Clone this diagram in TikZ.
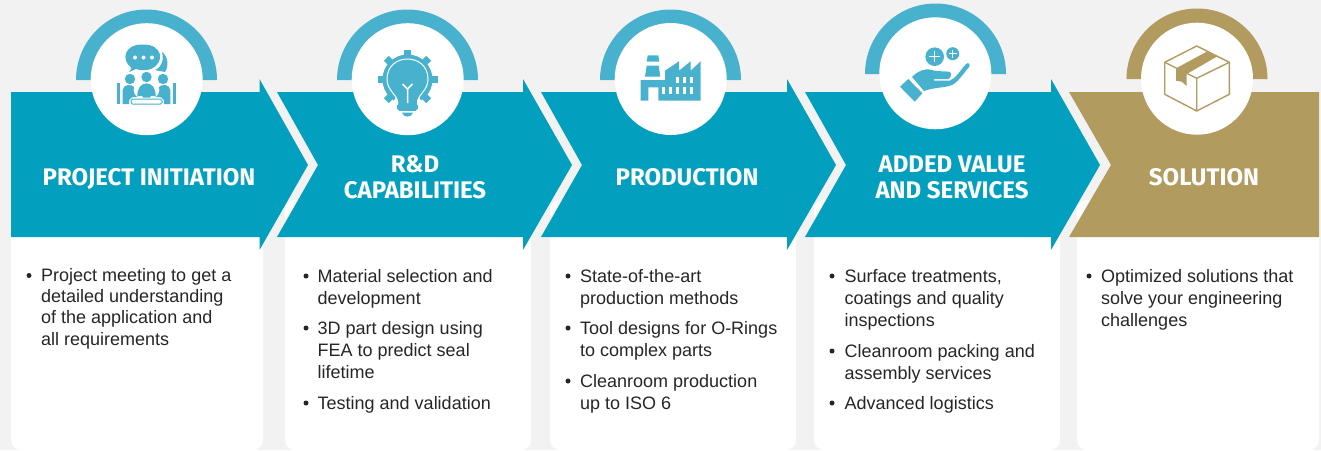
\documentclass[tikz,border=0pt]{standalone}
\usepackage{fontspec}
\setmainfont{Liberation Sans}
\newfontfamily\headfont{Fira Sans}
\definecolor{teal1}{HTML}{02A0BE}
\definecolor{teal2}{HTML}{47B1CE}
\definecolor{gold1}{HTML}{B29B5F}
\definecolor{back1}{HTML}{F2F2F2}
\tikzset{
  head/.style={text=white,align=center,inner sep=0pt,font=\headfont\bfseries\fontsize{24}{26}\selectfont},
  itemtext/.style={anchor=north west,align=left,inner sep=0pt,text=black!85,font=\fontsize{18}{22.3}\selectfont},
  dotmark/.style={circle,fill=black!85,inner sep=0pt,minimum size=5pt},
  disc/.style={circle,fill=white,inner sep=0pt,minimum size=112pt}
}
\begin{document}
\begin{tikzpicture}[x=1pt,y=-1pt]
    \useasboundingbox (0,0) rectangle (1321,450);
    \fill[back1] (0,0) rectangle (1321,450);
    \foreach \l/\r in {11/263, 285/531, 550/796, 814/1060, 1077/1319}
        \fill[white,rounded corners=10pt] (\l,200) rectangle (\r,450);
    \foreach \cx/\by/\c in {146.5/80/teal2, 407.5/80/teal2, 670.5/80/teal2, 935.5/74/teal2, 1197/79/gold1}
        \fill[\c] (\cx-70.5,\by) arc[start angle=180,end angle=0,radius=70.5pt] -- cycle;
    \fill[teal1] (11,92) -- (259.5,92) -- (259.5,79) -- (308,165) -- (259.5,250) -- (259.5,237) -- (11,237) -- cycle;
    \foreach \l/\s in {277/523, 541/787, 805/1051}
        \fill[teal1] (\l,92) -- (\s,92) -- (\s,79) -- (\s+49,165) -- (\s,250) -- (\s,237) -- (\l,237) -- (\l+41,165) -- cycle;
    \fill[gold1] (1069,92) -- (1319,92) -- (1319,237) -- (1069,237) -- (1111,165) -- cycle;
    \node[disc] (c1) at (146.7,79.2) {};
    \node[disc] (c2) at (407.7,79.2) {};
    \node[disc] (c3) at (670.7,79) {};
    \node[disc] (c4) at (935.3,73.3) {};
    \node[disc] (c5) at (1197,78.7) {};

    % meeting
    \fill[teal2] (129,72) .. controls (131,70) and (131,69) .. (131,67.5) .. controls (121,60) and (124,44) .. (143,44.5) .. controls (162,44) and (166,62) .. (151,69) .. controls (146,71) and (138,70) .. (136,69) -- cycle;
    \fill[teal2] (162,52) .. controls (168,56) and (169,66) .. (165,72) .. controls (161,71) and (158,71) .. (155,70) .. controls (162,67) and (164,60) .. (162,52) -- cycle;
    \foreach \x in {135,143.5,152} \fill[white] (\x,57.5) circle (2pt);
    \foreach \x/\y in {130/79, 146.5/77, 163/79} \fill[teal2] (\x,\y) circle (5.2pt);
    \fill[teal2] (116.7,82.7) rectangle (120,104);
    \fill[teal2] (173,82.7) rectangle (176.3,104);
    \fill[teal2] (122.7,104) -- (122.7,90) .. controls (123,84) and (132,84) .. (134,87) .. controls (133,92) and (134,94) .. (137,97) .. controls (133,97) and (130,97) .. (129,100) -- (129,104) -- cycle;
    \fill[teal2] (170.3,104) -- (170.3,90) .. controls (170,84) and (161,84) .. (159,87) .. controls (160,92) and (159,94) .. (156,97) .. controls (160,97) and (163,97) .. (164,100) -- (164,104) -- cycle;
    \fill[teal2] (137.5,96.5) .. controls (136,79) and (157,79) .. (155.5,96.5) .. controls (153,96.5) and (151,94) .. (150,97.5) -- (143,97.5) .. controls (142,94) and (140,96.5) .. (137.5,96.5) -- cycle;
    \draw[teal2,line width=1pt,rounded corners=1.5pt] (131,104) -- (131,99) -- (162,99) -- (162,104) -- cycle;

    % bulb and gear
    \fill[teal2] (407.5,79.5) circle (25pt);
    \foreach \a in {0,45,...,315}
        \fill[teal2,rotate around={\a:(407.5,79.5)}] (404,49.5) rectangle (411,58);
    \fill[white] (407.5,79.5) -- (384,116) -- (431,116) -- cycle;
    \fill[teal2,draw=white,line width=1pt] (397.5,105) -- (397.5,101) .. controls (396,94) and (387,90) .. (387,79) .. controls (387,66) and (397,59) .. (407.5,59) .. controls (418,59) and (428,66) .. (428,79) .. controls (428,90) and (419,94) .. (417.5,101) -- (417.5,105) -- cycle;
    \draw[white,line width=1.5pt] (407.5,103) -- (407.5,89) -- (402.5,84);
    \draw[white,line width=1.5pt] (407.5,89) -- (412.5,84);
    \fill[teal2,rounded corners=2pt] (397,104) -- (418,104) -- (418,110) -- (397,110) -- cycle;
    \fill[teal2] (399,106) -- (416,106) -- (416,111) -- (399,111) -- cycle;
    \fill[teal2] (402,112.5) -- (413,112.5) .. controls (412,118) and (403,118) .. (402,112.5) -- cycle;

    % factory
    \fill[teal2] (647.7,55.3) -- (658.3,55.3) -- (659.3,61.7) -- (646.7,61.7) -- cycle;
    \fill[teal2] (646.7,65.7) -- (658.7,65.7) -- (660.3,76.7) -- (645,76.7) -- cycle;
    \fill[teal2,even odd rule] (640.7,80) -- (665,80) -- (665,70.7) -- (679,61.3) -- (679,70.7) -- (690.7,61.3) -- (690.7,70.7) -- (700.7,61.3) -- (700.7,100.7) -- (658.3,100.7) -- (658.3,87.3) -- (648.3,87.3) -- (648.3,100.7) -- (640.7,100.7) -- cycle;
    \foreach \x in {676,683,690}
        \fill[white] (\x,76.7) rectangle +(3.4,6.6);
    \foreach \x in {662,669,676,683,690}
        \fill[white] (\x,87.3) rectangle +(3.4,6.7);

    % hand
    \fill[teal2] (934.7,56.7) circle (9.3pt);
    \fill[teal2] (952.7,53.7) circle (6.5pt);
    \draw[white,line width=1pt] (929,56.7) -- (940.4,56.7) (934.7,51) -- (934.7,62.4);
    \draw[white,line width=1pt] (948.7,53.7) -- (956.7,53.7) (952.7,49.7) -- (952.7,57.7);
    \fill[teal2] (900,86.7) -- (908.3,79) -- (922.3,93.3) -- (914.7,101.7) -- cycle;
    \fill[teal2] (912,77) .. controls (918,71) and (924,68) .. (932,70) .. controls (938,72) and (948,71) .. (950,72) .. controls (952,74) and (951,78) .. (948,79) -- (934,79) -- (934,80.5) -- (950,80.5) .. controls (955,79) and (960,71) .. (966,64) .. controls (968,62) and (971,64) .. (969,67) .. controls (963,74) and (958,82) .. (952,85) .. controls (945,88) and (935,87) .. (924,91) -- cycle;

    % box
    \draw[gold1,line width=1.4pt,line join=round] (1196.7,46) -- (1229.3,62.3) -- (1229.3,94.3) -- (1196.7,111) -- (1164.7,94.3) -- (1164.7,62.3) -- cycle;
    \draw[gold1,line width=1.4pt,line join=round] (1164.7,62.3) -- (1196.7,78.3) -- (1229.3,62.3) (1196.7,78.3) -- (1196.7,111);
    \fill[gold1] (1176,68.3) -- (1206.7,51.7) -- (1216.7,56.7) -- (1186.7,74) -- (1186.7,86) -- (1181.7,81.7) -- (1176,80.7) -- cycle;

    \node[head] (h1) at (149,179) {PROJECT INITIATION};
    \node[head] (h2) at (415,177) {R\&D\\CAPABILITIES};
    \node[head] (h3) at (687,177) {PRODUCTION};
    \node[head] (h4) at (952,177) {ADDED VALUE\\AND SERVICES};
    \node[head] (h5) at (1204,177) {SOLUTION};

    \node[itemtext,font=\fontsize{18}{21.3}\selectfont] (p1) at (41,268) {Project meeting to get a\\detailed understanding\\of the application and\\all requirements};
    \node[dotmark] (b1) at (29,275.5) {};

    \node[itemtext] (r1) at (317.5,269) {Material selection and\\development};
    \node[itemtext] (r2) at (317.5,321) {3D part design using\\FEA to predict seal\\lifetime};
    \node[itemtext] (r3) at (317.5,396) {Testing and validation};
    \foreach \n/\y in {1/276, 2/328, 3/403} \node[dotmark] (br\n) at (306,\y) {};

    \node[itemtext] (s1) at (580,269) {State-of-the-art\\production methods};
    \node[itemtext] (s2) at (580,321) {Tool designs for O-Rings\\to complex parts};
    \node[itemtext] (s3) at (580,374) {Cleanroom production\\up to ISO 6};
    \foreach \n/\y in {1/276, 2/328, 3/381} \node[dotmark] (bs\n) at (568,\y) {};

    \node[itemtext] (v1) at (844.5,269) {Surface treatments,\\coatings and quality\\inspections};
    \node[itemtext] (v2) at (844.5,344) {Cleanroom packing and\\assembly services};
    \node[itemtext] (v3) at (844.5,396) {Advanced logistics};
    \foreach \n/\y in {1/276, 2/351, 3/403} \node[dotmark] (bv\n) at (832,\y) {};

    \node[itemtext] (o1) at (1101,269) {Optimized solutions that\\solve your engineering\\challenges};
    \node[dotmark] (b5) at (1089,276) {};
\end{tikzpicture}
\end{document}
